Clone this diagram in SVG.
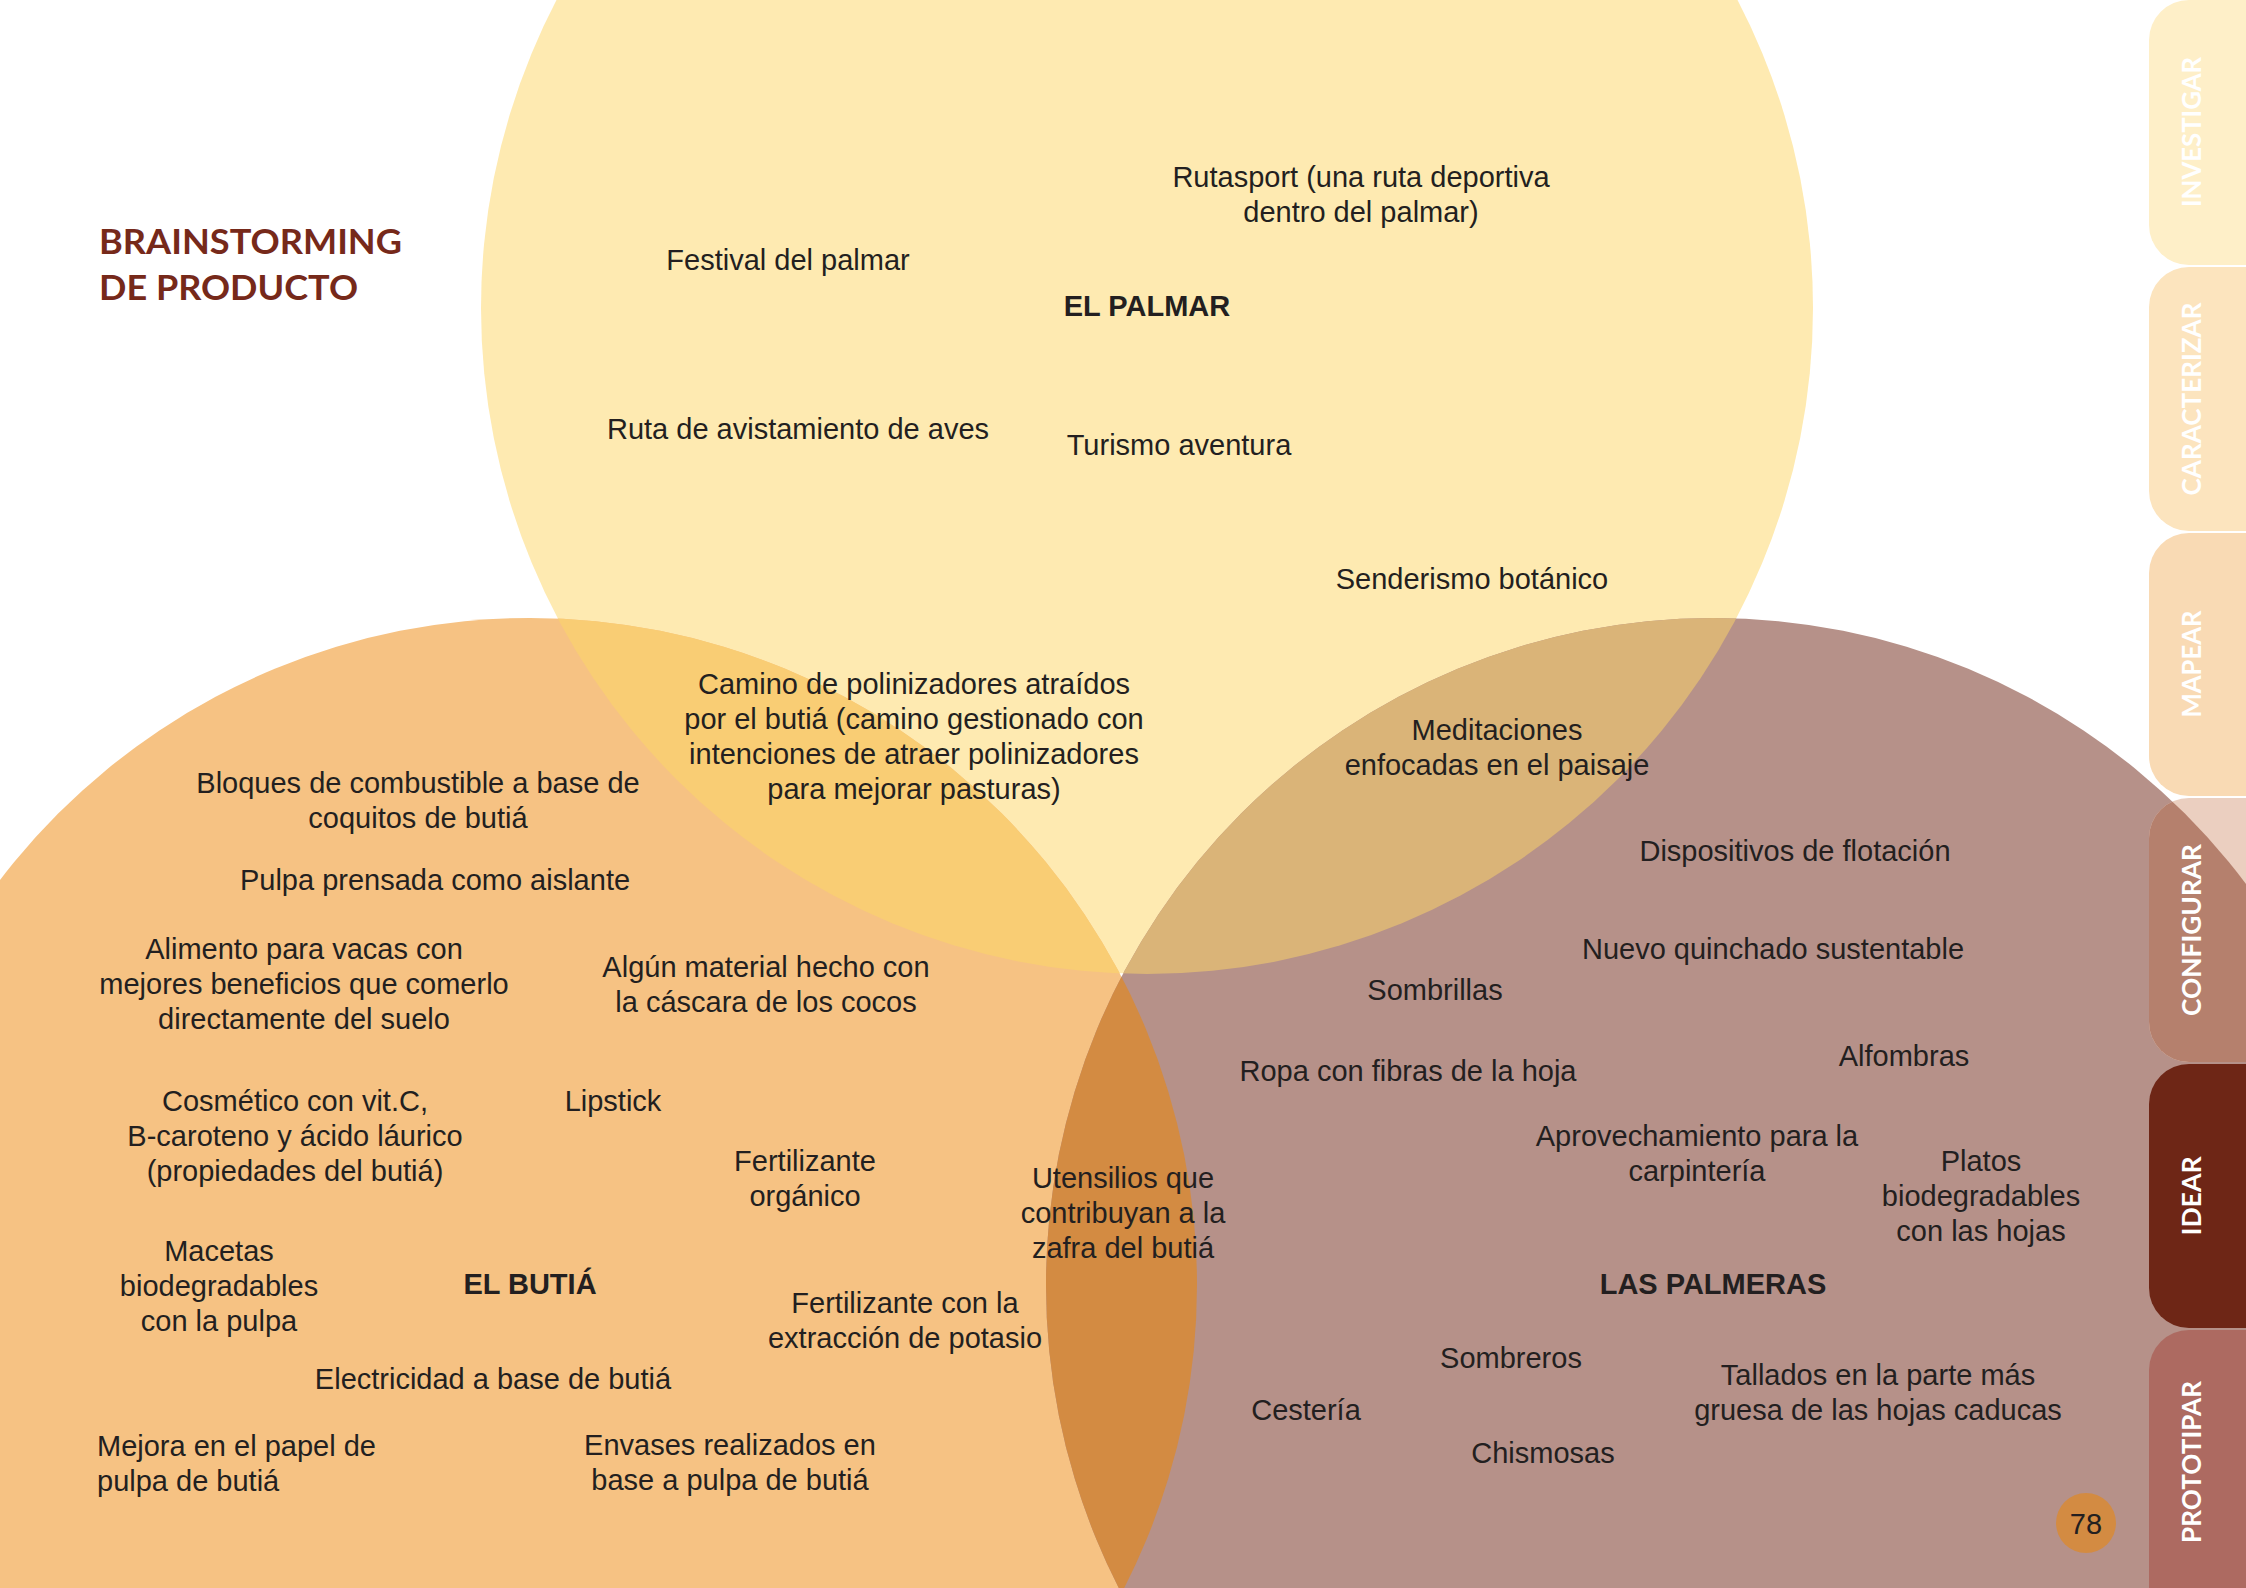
<svg xmlns="http://www.w3.org/2000/svg" width="2246" height="1588" viewBox="0 0 2246 1588">
  <style>
    .t { font-family: "Liberation Sans", Arial, sans-serif; font-size: 29px; fill: #231F20; text-anchor: middle; }
    .tl { text-anchor: start; }
    .b { font-weight: bold; }
    .title { font-family: Lato, "Liberation Sans", sans-serif; font-weight: 700; font-size: 35px; fill: #76291A; }
    .tab { font-family: Lato, "Liberation Sans", sans-serif; font-weight: 700; font-size: 26px; fill: #FFFFFF; text-anchor: middle; }
  </style>
  <defs>
    <clipPath id="cTop"><circle cx="1147" cy="308" r="666"/></clipPath>
    <clipPath id="cLeft"><circle cx="530" cy="1285" r="667"/></clipPath>
    <clipPath id="cRight"><circle cx="1713" cy="1285" r="667"/></clipPath>
  </defs>

  <rect width="2246" height="1588" fill="#FFFFFF"/>

  <!-- Venn circles and their overlaps -->
  <g id="venn">
    <circle id="circle-palmar" cx="1147" cy="308" r="666" fill="#FEEAB1"/>
    <circle id="circle-butia" cx="530" cy="1285" r="667" fill="#F6C283"/>
    <circle id="circle-palmeras" cx="1713" cy="1285" r="667" fill="#B69189"/>
    <circle cx="530" cy="1285" r="667" fill="#F9CD74" clip-path="url(#cTop)"/>
    <circle cx="1713" cy="1285" r="667" fill="#DAB478" clip-path="url(#cTop)"/>
    <circle cx="1713" cy="1285" r="667" fill="#D38B42" clip-path="url(#cLeft)"/>
  </g>

  <!-- side navigation tabs -->
  <g id="tabs">
    <g id="tab-investigar">
      <rect x="2149" y="0" width="140" height="265" rx="40" fill="#FEEFC8"/>
      <text class="tab" transform="translate(2201 132) rotate(-90)" textLength="150" lengthAdjust="spacingAndGlyphs">INVESTIGAR</text>
    </g>
    <g id="tab-caracterizar">
      <rect x="2149" y="267" width="140" height="264" rx="40" fill="#FCE4BE"/>
      <text class="tab" transform="translate(2201 399) rotate(-90)" textLength="193" lengthAdjust="spacingAndGlyphs">CARACTERIZAR</text>
    </g>
    <g id="tab-mapear">
      <rect x="2149" y="533" width="140" height="263" rx="40" fill="#F9DAB4"/>
      <text class="tab" transform="translate(2201 664) rotate(-90)" textLength="107" lengthAdjust="spacingAndGlyphs">MAPEAR</text>
    </g>
    <g id="tab-configurar">
      <rect x="2149" y="798" width="140" height="264" rx="40" fill="#EBCFC0"/>
      <rect x="2149" y="798" width="140" height="264" rx="40" fill="#B5806D" clip-path="url(#cRight)"/>
      <text class="tab" transform="translate(2201 930) rotate(-90)" textLength="172" lengthAdjust="spacingAndGlyphs">CONFIGURAR</text>
    </g>
    <g id="tab-idear">
      <rect x="2149" y="1064" width="140" height="264" rx="40" fill="#6E2616"/>
      <text class="tab" transform="translate(2201 1196) rotate(-90)" textLength="79" lengthAdjust="spacingAndGlyphs">IDEAR</text>
    </g>
    <g id="tab-prototipar">
      <rect x="2149" y="1330" width="140" height="300" rx="40" fill="#AD6A61"/>
      <text class="tab" transform="translate(2201 1462) rotate(-90)" textLength="162" lengthAdjust="spacingAndGlyphs">PROTOTIPAR</text>
    </g>
  </g>

  <!-- page title -->
  <g id="title">
    <text class="title" x="99" y="254" textLength="303" lengthAdjust="spacingAndGlyphs">BRAINSTORMING</text>
    <text class="title" x="99" y="300" textLength="259" lengthAdjust="spacingAndGlyphs">DE PRODUCTO</text>
  </g>

  <g id="ideas" transform="translate(0 2)">
  <!-- El Palmar ideas -->
  <g id="palmar">
    <text id="label-palmar" class="t b" x="1147" y="314">EL PALMAR</text>
    <g id="rutasport"><text class="t" x="1361" y="185">Rutasport (una ruta deportiva</text><text class="t" x="1361" y="220">dentro del palmar)</text></g>
    <g id="festival"><text class="t" x="788" y="268">Festival del palmar</text></g>
    <g id="avistamiento"><text class="t" x="798" y="437">Ruta de avistamiento de aves</text></g>
    <g id="turismo"><text class="t" x="1179" y="453">Turismo aventura</text></g>
    <g id="senderismo"><text class="t" x="1472" y="587">Senderismo botánico</text></g>
  </g>

  <!-- shared ideas -->
  <g id="shared">
    <g id="polinizadores">
      <text class="t" x="914" y="692">Camino de polinizadores atraídos</text>
      <text class="t" x="914" y="727">por el butiá (camino gestionado con</text>
      <text class="t" x="914" y="762">intenciones de atraer polinizadores</text>
      <text class="t" x="914" y="797">para mejorar pasturas)</text>
    </g>
    <g id="meditaciones">
      <text class="t" x="1497" y="738">Meditaciones</text>
      <text class="t" x="1497" y="773">enfocadas en el paisaje</text>
    </g>
    <g id="utensilios">
      <text class="t" x="1123" y="1186">Utensilios que</text>
      <text class="t" x="1123" y="1221">contribuyan a la</text>
      <text class="t" x="1123" y="1256">zafra del butiá</text>
    </g>
  </g>

  <!-- El Butiá ideas -->
  <g id="butia">
    <text id="label-butia" class="t b" x="530" y="1292">EL BUTIÁ</text>
    <g id="bloques"><text class="t" x="418" y="791">Bloques de combustible a base de</text><text class="t" x="418" y="826">coquitos de butiá</text></g>
    <g id="pulpa"><text class="t" x="435" y="888">Pulpa prensada como aislante</text></g>
    <g id="alimento">
      <text class="t" x="304" y="957">Alimento para vacas con</text>
      <text class="t" x="304" y="992">mejores beneficios que comerlo</text>
      <text class="t" x="304" y="1027">directamente del suelo</text>
    </g>
    <g id="cascara"><text class="t" x="766" y="975">Algún material hecho con</text><text class="t" x="766" y="1010">la cáscara de los cocos</text></g>
    <g id="cosmetico">
      <text class="t" x="295" y="1109">Cosmético con vit.C,</text>
      <text class="t" x="295" y="1144">B-caroteno y ácido láurico</text>
      <text class="t" x="295" y="1179">(propiedades del butiá)</text>
    </g>
    <g id="lipstick"><text class="t" x="613" y="1109">Lipstick</text></g>
    <g id="fertilizante"><text class="t" x="805" y="1169">Fertilizante</text><text class="t" x="805" y="1204">orgánico</text></g>
    <g id="macetas">
      <text class="t" x="219" y="1259">Macetas</text>
      <text class="t" x="219" y="1294">biodegradables</text>
      <text class="t" x="219" y="1329">con la pulpa</text>
    </g>
    <g id="potasio"><text class="t" x="905" y="1311">Fertilizante con la</text><text class="t" x="905" y="1346">extracción de potasio</text></g>
    <g id="electricidad"><text class="t" x="493" y="1387">Electricidad a base de butiá</text></g>
    <g id="papel"><text class="t tl" x="97" y="1454">Mejora en el papel de</text><text class="t tl" x="97" y="1489">pulpa de butiá</text></g>
    <g id="envases"><text class="t" x="730" y="1453">Envases realizados en</text><text class="t" x="730" y="1488">base a pulpa de butiá</text></g>
  </g>

  <!-- Las Palmeras ideas -->
  <g id="palmeras">
    <text id="label-palmeras" class="t b" x="1713" y="1292">LAS PALMERAS</text>
    <g id="flotacion"><text class="t" x="1795" y="859">Dispositivos de flotación</text></g>
    <g id="quinchado"><text class="t" x="1773" y="957">Nuevo quinchado sustentable</text></g>
    <g id="sombrillas"><text class="t" x="1435" y="998">Sombrillas</text></g>
    <g id="ropa"><text class="t" x="1408" y="1079">Ropa con fibras de la hoja</text></g>
    <g id="alfombras"><text class="t" x="1904" y="1064">Alfombras</text></g>
    <g id="carpinteria"><text class="t" x="1697" y="1144">Aprovechamiento para la</text><text class="t" x="1697" y="1179">carpintería</text></g>
    <g id="platos">
      <text class="t" x="1981" y="1169">Platos</text>
      <text class="t" x="1981" y="1204">biodegradables</text>
      <text class="t" x="1981" y="1239">con las hojas</text>
    </g>
    <g id="sombreros"><text class="t" x="1511" y="1366">Sombreros</text></g>
    <g id="cesteria"><text class="t" x="1306" y="1418">Cestería</text></g>
    <g id="tallados"><text class="t" x="1878" y="1383">Tallados en la parte más</text><text class="t" x="1878" y="1418">gruesa de las hojas caducas</text></g>
    <g id="chismosas"><text class="t" x="1543" y="1461">Chismosas</text></g>
  </g>
  </g>

  <!-- page number -->
  <g id="page-number">
    <circle cx="2086" cy="1523" r="30" fill="#D38B42"/>
    <text class="t" x="2086" y="1534">78</text>
  </g>
</svg>
